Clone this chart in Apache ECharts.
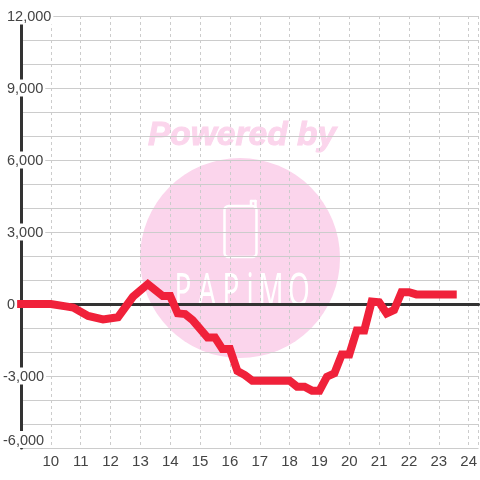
<!DOCTYPE html>
<html>
<head>
<meta charset="utf-8">
<style>
  html, body { margin: 0; padding: 0; background: #fff; }
  #chartWrap { width: 480px; height: 480px; }
</style>
</head>
<body>
<div id="chartWrap"></div>
<script src="https://cdn.jsdelivr.net/npm/echarts@6/dist/echarts.min.js"></script>
<script>
// hour of day, read at the knees of the line
const hours = [8.87, 10, 10.5, 10.75, 11.25, 11.75, 12.25, 12.75, 13.25, 13.75, 14, 14.25, 14.5, 14.75,
  15.25, 15.5, 15.75, 16, 16.25, 16.5, 16.75, 18, 18.25, 18.5, 18.75, 19, 19.25, 19.5, 19.75, 20,
  20.25, 20.5, 20.75, 21, 21.25, 21.5, 21.75, 22, 22.25, 23.6]
const values = [0, 0, -100, -150, -500, -640, -550, 300, 830, 330, 330, -390, -420, -670,
  -1400, -1400, -1880, -1880, -2790, -2960, -3195, -3195, -3445, -3445, -3610, -3610, -3030, -2890, -2100, -2100,
  -1100, -1100, 100, 70, -390, -250, 490, 490, 400, 400]
const labelEvery = 3000

// watermark logo letters, spaced by hand
const logoLetters = ['P', 'A', 'P', 'i', 'M', 'O']
const logoLetterX = [183, 207, 231, 250, 271, 299]

const textColor = '#444'
const gridColor = '#ccc'
const darkLine = '#333'
const pink = '#fbd5ec'
const font = '"Liberation Sans", Arial, sans-serif'

const chart = echarts.init(document.getElementById('chartWrap'))

const logoText = logoLetters.map((ch, i) => ({
  type: 'text',
  z: -9,
  x: logoLetterX[i],
  y: 293,
  scaleX: 0.62,
  style: { text: ch, fill: '#fff', font: '400 45px "Noto Sans", sans-serif', align: 'center', verticalAlign: 'middle' }
}))

chart.setOption({
  animation: false,
  backgroundColor: '#fff',
  grid: { left: 20, right: 0, top: 16, bottom: 32 },
  // watermark sits below the grid lines
  graphic: [
    { type: 'circle', z: -10, shape: { cx: 240, cy: 258, r: 100 }, style: { fill: pink } },
    { type: 'text', z: -10, x: 242, y: 136, style: { text: 'Powered by', fill: pink, stroke: pink, lineWidth: 1, font: 'italic bold 33.5px ' + font, align: 'center', verticalAlign: 'middle' } },
    { type: 'rect', z: -9, shape: { x: 224.5, y: 206, width: 32, height: 51, r: 4 }, style: { fill: 'none', stroke: '#fff', lineWidth: 2.5 } },
    { type: 'line', z: -9, shape: { x1: 255.5, y1: 207, x2: 255.5, y2: 201 }, style: { stroke: '#fff', lineWidth: 2.5, lineCap: 'round' } },
    { type: 'line', z: -9, shape: { x1: 255.5, y1: 201, x2: 251, y2: 201 }, style: { stroke: '#fff', lineWidth: 2.5, lineCap: 'round' } },
    { type: 'line', z: -9, shape: { x1: 251, y1: 201, x2: 251, y2: 206 }, style: { stroke: '#fff', lineWidth: 2.5, lineCap: 'round' } },
    ...logoText
  ],
  xAxis: [
    {
      type: 'value',
      min: 9,
      max: 24.33,
      interval: 1,
      axisLine: { show: false, onZero: false },
      axisTick: { show: false },
      axisLabel: { showMinLabel: false, showMaxLabel: false, color: textColor, fontFamily: font, fontSize: 15, margin: 6 },
      splitLine: { show: true, lineStyle: { color: gridColor, type: [3, 3], width: 1 } }
    },
    {
      // zero line
      type: 'value',
      position: 'bottom',
      min: 9,
      max: 24.33,
      axisLine: { show: true, onZero: true, lineStyle: { color: darkLine, width: 3 } },
      axisTick: { show: false },
      axisLabel: { show: false },
      splitLine: { show: false }
    }
  ],
  yAxis: {
    type: 'value',
    min: -6000,
    max: 12000,
    interval: 1000,
    axisLine: { show: true, onZero: false, lineStyle: { color: darkLine, width: 3 } },
    axisTick: { show: false },
    axisLabel: {
      align: 'left',
      margin: 18,
      color: textColor,
      fontFamily: font,
      fontSize: 14.5,
      backgroundColor: '#fff',
      padding: [2, 2, 0, 0],
      verticalAlignMinLabel: 'bottom',
      formatter: (v) => {
        if (v % labelEvery !== 0) return ''
        const s = Math.abs(v).toLocaleString('en-US')
        return v < 0 ? '-' + s : '{pos|' + s + '}'
      },
      rich: { pos: { padding: [0, 0, 0, 4], fontFamily: font, fontSize: 14.5, color: textColor } }
    },
    splitLine: { show: true, lineStyle: { color: gridColor, width: 1 } }
  },
  series: [{
    type: 'line',
    clip: false,
    showSymbol: false,
    symbol: 'none',
    silent: true,
    data: hours.map((h, i) => [h, values[i]]),
    lineStyle: { color: '#f0213a', width: 8, join: 'miter' },
    z: 5
  }]
})
</script>
</body>
</html>
